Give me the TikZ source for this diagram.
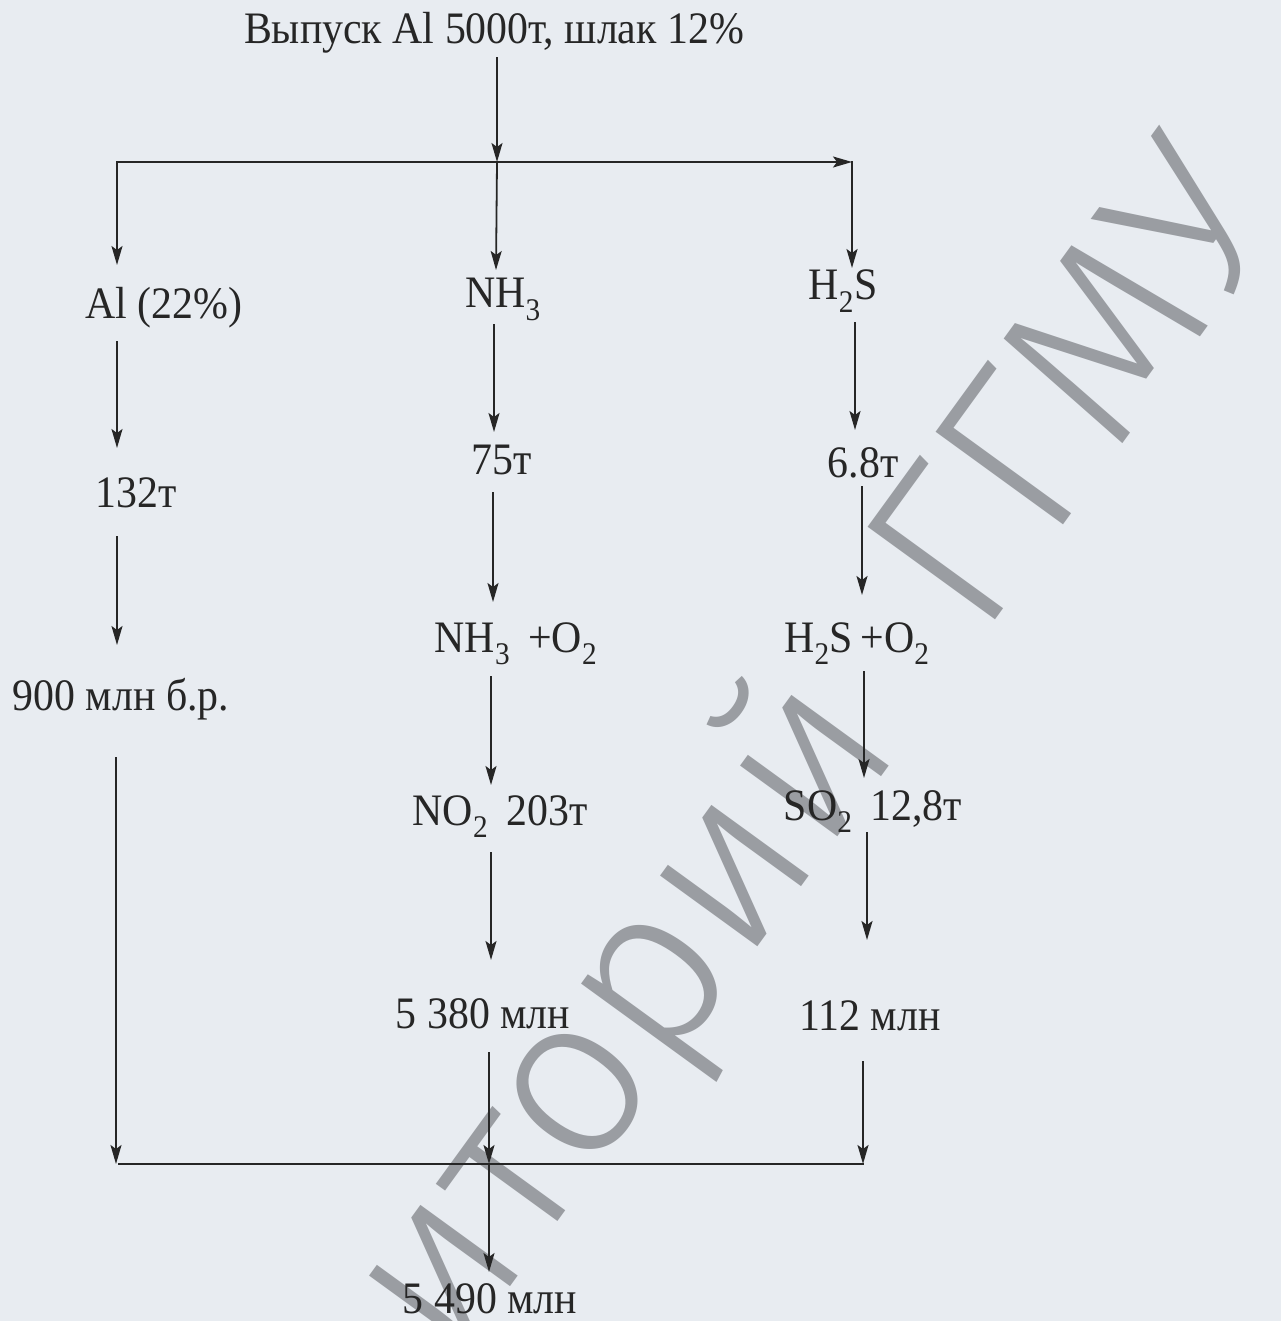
\documentclass[tikz,border=0pt]{standalone}
\usepackage{fontspec}
\setmainfont{Liberation Serif}[FakeStretch=0.93]
\IfFontExistsTF{Fira Sans Light}{\newfontfamily\wmfont{Fira Sans Light}}{\newfontfamily\wmfont{Liberation Sans}}
\usetikzlibrary{arrows.meta}
\definecolor{bgc}{HTML}{E8ECF1}
\definecolor{ink}{HTML}{262626}
\definecolor{wmc}{HTML}{9A9DA2}
\tikzset{
  lbl/.style={anchor=base, inner sep=0pt, text=ink, font=\fontsize{45}{54}\selectfont},
  arr/.style={draw=ink, line width=1.8pt, line cap=rect, -{Stealth[length=19pt,width=11pt,inset=4pt]}},
  ln/.style={draw=ink, line width=1.8pt, line cap=rect},
  wm/.style={inner sep=0pt, text=wmc, rotate=54, font=\wmfont\fontsize{230}{230}\selectfont},
}
\begin{document}
\begin{tikzpicture}[x=1pt,y=-1pt]
\fill[bgc] (0,0) rectangle (1281,1321);
\useasboundingbox (0,0) rectangle (1281,1321);
% watermark
\begin{scope}
\clip (0,0) rectangle (1281,1321);
\node[wm] (wm) at (637,1005) {Репозиторий\hspace*{0.57em}ГГМУ};
\end{scope}
% labels
\node[lbl] (title) at (494,44) {Выпуск Al 5000т, шлак 12\%};
\node[lbl] (al) at (164,318) {Al (22\%)};
\node[lbl] (nh3) at (503,308) {NH\textsubscript{3}};
\node[lbl] (h2s) at (843,300) {H\textsubscript{2}S};
\node[lbl] (t132) at (136,507) {132т};
\node[lbl] (t75) at (502,474) {75т};
\node[lbl] (t68) at (863,477) {6.8т};
\node[lbl] (nho) at (516,652) {NH\textsubscript{3} \,+O\textsubscript{2}};
\node[lbl] (hso) at (857,652) {H\textsubscript{2}S\,+O\textsubscript{2}};
\node[lbl] (m900) at (121,710) {900 млн б.р.};
\node[lbl] (no2) at (500,825) {NO\textsubscript{2} \,203т};
\node[lbl] (so2) at (873,820) {SO\textsubscript{2} \,12,8т};
\node[lbl] (m5380) at (483,1028) {5 380 млн};
\node[lbl] (m112) at (870,1030) {112 млн};
\node[lbl] (m5490) at (490,1313) {5 490 млн};
% junctions and arrow ends
\coordinate (ts) at (497,58);
\coordinate (jt) at (497,162);
\coordinate (jl) at (117,162);
\coordinate (jr) at (852,162);
\coordinate (alIn) at (117,265);
\coordinate (nhIn) at (496,270);
\coordinate (hsIn) at (852,268);
\coordinate (alOut) at (117,342);
\coordinate (aIn) at (117,448);
\coordinate (nhOut) at (494,325);
\coordinate (bIn) at (494,432);
\coordinate (hsOut) at (855,323);
\coordinate (cIn) at (855,430);
\coordinate (aOut) at (117,537);
\coordinate (dIn) at (117,645);
\coordinate (bOut) at (493,493);
\coordinate (eIn) at (493,602);
\coordinate (cOut) at (862,487);
\coordinate (fIn) at (862,595);
\coordinate (gOut) at (116,758);
\coordinate (gIn) at (116,1164);
\coordinate (eOut) at (491,677);
\coordinate (hIn) at (491,785);
\coordinate (fOut) at (864,672);
\coordinate (iIn) at (864,778);
\coordinate (hOut) at (491,853);
\coordinate (jIn) at (491,960);
\coordinate (iOut) at (867,833);
\coordinate (kIn) at (867,940);
\coordinate (jOut) at (489,1053);
\coordinate (bm) at (489,1164);
\coordinate (kOut) at (863,1062);
\coordinate (br) at (863,1164);
\coordinate (bl) at (119,1164);
\coordinate (fin) at (489,1272);
% connectors
\draw[arr] (ts) -- (jt);
\draw[arr] (jl) -- (jr);
\draw[arr] (jl) -- (alIn);
\draw[arr] (jt) -- (nhIn);
\draw[arr] (jr) -- (hsIn);
\draw[arr] (alOut) -- (aIn);
\draw[arr] (nhOut) -- (bIn);
\draw[arr] (hsOut) -- (cIn);
\draw[arr] (aOut) -- (dIn);
\draw[arr] (bOut) -- (eIn);
\draw[arr] (cOut) -- (fIn);
\draw[arr] (gOut) -- (gIn);
\draw[arr] (eOut) -- (hIn);
\draw[arr] (fOut) -- (iIn);
\draw[arr] (hOut) -- (jIn);
\draw[arr] (iOut) -- (kIn);
\draw[arr] (jOut) -- (bm);
\draw[arr] (kOut) -- (br);
\draw[ln] (bl) -- (br);
\draw[arr] (bm) -- (fin);
\end{tikzpicture}
\end{document}
